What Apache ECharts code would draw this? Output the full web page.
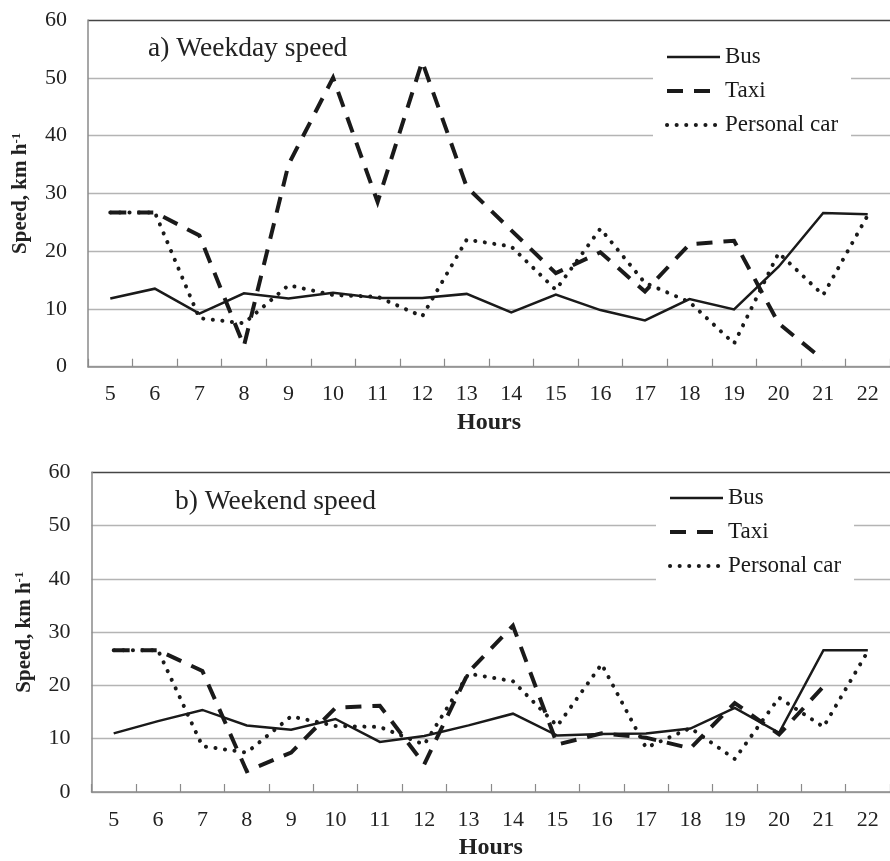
<!DOCTYPE html>
<html>
<head>
<meta charset="utf-8">
<script src="https://cdn.jsdelivr.net/npm/echarts@6/dist/echarts.min.js"></script>
<style>
html,body{margin:0;padding:0;background:#fff;}
#chart{width:890px;height:861px;}
</style>
</head>
<body>
<div id="chart"></div>
<script>
// ---- data ----
const hours = ['5','6','7','8','9','10','11','12','13','14','15','16','17','18','19','20','21','22'];
const yTicks = [0, 10, 20, 30, 40, 50, 60];
const seriesNames = ['Bus', 'Taxi', 'Personal car'];
const panelTitles = ['a) Weekday speed', 'b) Weekend speed'];

const weekdayBus  = [11.8, 13.5, 9.2, 12.7, 11.8, 12.8, 11.9, 11.9, 12.6, 9.4, 12.5, 9.8, 8.0, 11.7, 9.9, 17.3, 26.6, 26.4];
const weekdayTaxi = [26.7, 26.7, 22.7, 3.6, 35.0, 50.0, 28.5, 52.8, 31.1, 23.6, 16.2, 19.8, 13.0, 21.2, 21.8, 7.5, 1.2];
const weekdayCar  = [26.7, 26.7, 8.4, 7.5, 14.1, 12.4, 12.1, 8.7, 22.0, 20.8, 13.3, 23.9, 14.5, 11.2, 4.0, 19.7, 12.4, 26.2];

const weekendBus  = [11.0, 13.3, 15.4, 12.5, 11.7, 13.7, 9.4, 10.5, 12.5, 14.7, 10.6, 10.9, 11.0, 11.9, 15.8, 11.1, 26.6, 26.6];
const weekendTaxi = [26.6, 26.6, 22.7, 3.9, 7.4, 15.8, 16.2, 5.2, 22.5, 31.2, 8.9, 11.0, 10.2, 8.2, 16.7, 10.8, 19.8];
const weekendCar  = [26.6, 26.6, 8.6, 7.4, 14.2, 12.4, 12.2, 8.9, 22.2, 20.8, 12.4, 24.0, 8.3, 12.0, 6.2, 17.7, 12.2, 26.4];

// ---- styles ----
const FONT = 'Liberation Serif, Times New Roman, serif';
const INK = '#1a1a1a';
const styles = {
  'Bus': { color: INK, width: 2.5, type: 'solid', cap: 'butt' },
  'Taxi': { color: INK, width: 4, type: [16, 11], cap: 'butt' },
  'Personal car': { color: INK, width: 4, type: [0.1, 9.5], cap: 'round' }
};

const chart = echarts.init(document.getElementById('chart'), null, { renderer: 'canvas' });

const grids = [
  { left: 88, top: 20, width: 812, height: 346.7 },
  { left: 91.5, top: 472.3, width: 808.5, height: 320.4 }
];

function xAxisFor(i) {
  return {
    type: 'category', gridIndex: i, data: hours, boundaryGap: true,
    axisLine: { lineStyle: { color: '#8a8a8a', width: 1.5 } },
    axisTick: { show: true, inside: true, length: 8, lineStyle: { color: '#8a8a8a', width: 1.2 } },
    axisLabel: { fontFamily: FONT, fontSize: 22, color: '#222', margin: 17 },
    name: 'Hours', nameLocation: 'middle', nameGap: 44,
    nameTextStyle: { fontFamily: FONT, fontSize: 24, fontWeight: 'bold', color: '#222' }
  };
}
function yAxisFor(i) {
  const gridColors = yTicks.map((v, k) => (k === yTicks.length - 1 ? '#454545' : '#b4b4b4'));
  return {
    type: 'value', gridIndex: i, min: yTicks[0], max: yTicks[yTicks.length - 1], interval: 10,
    axisLine: { show: true, lineStyle: { color: '#8a8a8a', width: 1.5 } },
    axisTick: { show: false },
    axisLabel: { fontFamily: FONT, fontSize: 22, color: '#222', margin: 21 },
    splitLine: { show: true, lineStyle: { color: gridColors, width: 1.3 } },
    name: 'Speed, km h{sup|-1}', nameLocation: 'middle', nameRotate: 90, nameGap: 56,
    nameTextStyle: {
      fontFamily: FONT, fontSize: 21, fontWeight: 'bold', color: '#222',
      rich: { sup: { fontFamily: FONT, fontSize: 13, fontWeight: 'bold', color: '#222', verticalAlign: 'top', padding: [0, 0, 9, 0] } }
    }
  };
}

function lineSeries(name, data, i) {
  const s = styles[name];
  return {
    type: 'line', name: name, data: data, xAxisIndex: i, yAxisIndex: i,
    symbol: 'none', showSymbol: false, silent: true, animation: false,
    lineStyle: { color: s.color, width: s.width, type: s.type, cap: s.cap, join: 'miter' },
    itemStyle: { color: s.color }
  };
}

function legendFor(left, top) {
  return {
    orient: 'vertical', left: left, top: top,
    padding: [2, 13, 8, 12], itemGap: 0, itemWidth: 53, itemHeight: 14,
    backgroundColor: '#ffffff',
    selectedMode: false,
    textStyle: { fontFamily: FONT, fontSize: 23, color: INK, lineHeight: 34 },
    itemStyle: { color: 'transparent', borderWidth: 0, opacity: 0 },
    data: seriesNames.map(n => ({
      name: n,
      itemStyle: { color: 'transparent', borderWidth: 0, opacity: 0 },
      lineStyle: { color: styles[n].color, width: styles[n].width, type: styles[n].type, cap: styles[n].cap, opacity: 1 }
    }))
  };
}

const option = {
  backgroundColor: '#ffffff',
  animation: false,
  title: [
    { text: panelTitles[0], left: 148, top: 35, textStyle: { fontFamily: FONT, fontSize: 27.5, fontWeight: 'normal', color: '#222' }, padding: 0 },
    { text: panelTitles[1], left: 175, top: 488, textStyle: { fontFamily: FONT, fontSize: 27.5, fontWeight: 'normal', color: '#222' }, padding: 0 }
  ],
  legend: [legendFor(653, 38), legendFor(656, 479)],
  grid: grids,
  xAxis: [xAxisFor(0), xAxisFor(1)],
  yAxis: [yAxisFor(0), yAxisFor(1)],
  series: [
    lineSeries('Bus', weekdayBus, 0),
    lineSeries('Taxi', weekdayTaxi, 0),
    lineSeries('Personal car', weekdayCar, 0),
    lineSeries('Bus', weekendBus, 1),
    lineSeries('Taxi', weekendTaxi, 1),
    lineSeries('Personal car', weekendCar, 1)
  ]
};
chart.setOption(option);
</script>
</body>
</html>
